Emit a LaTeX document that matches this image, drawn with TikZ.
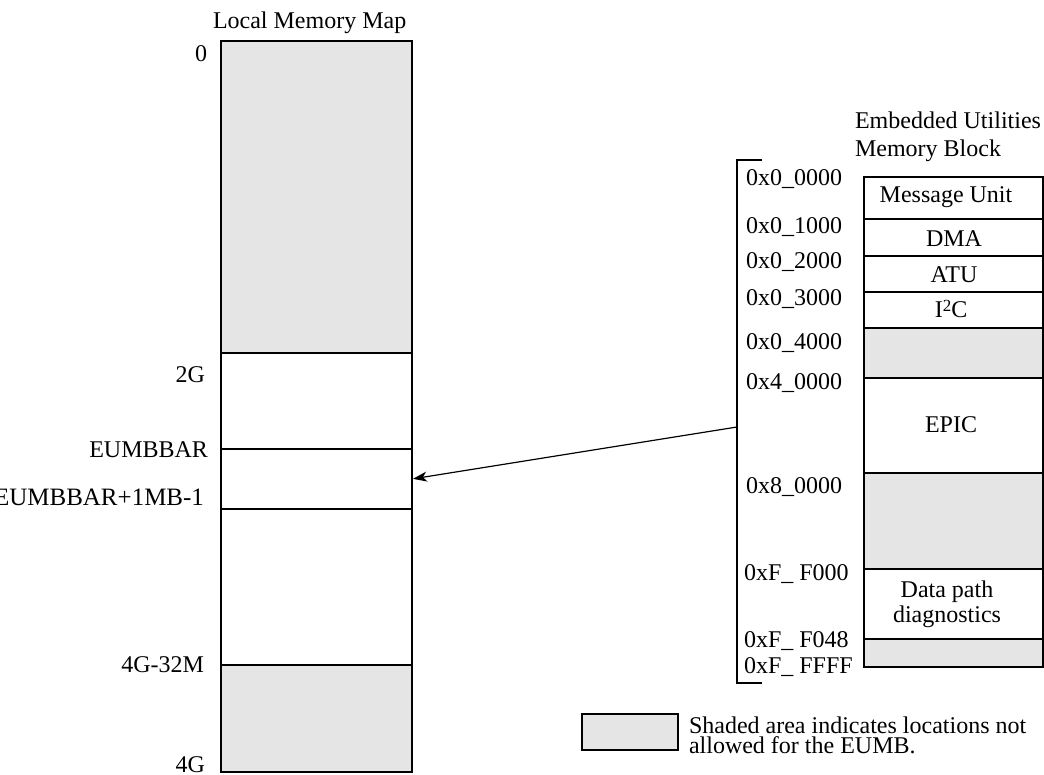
\documentclass[tikz,border=0pt]{standalone}
\usepackage{fontspec}
\setmainfont{Liberation Serif}
\usetikzlibrary{arrows.meta}
\definecolor{shade}{HTML}{E5E5E5}
\begin{document}
\begin{tikzpicture}[x=1pt,y=-1pt,
  txt/.style={font=\fontsize{24}{28}\selectfont, inner sep=0pt, outer sep=0pt},
  lseg/.style={draw, line width=2pt, minimum width=191pt, inner sep=0pt, outer sep=0pt, anchor=north west},
  rseg/.style={draw, line width=2pt, minimum width=179pt, inner sep=0pt, outer sep=0pt, anchor=north west},
  gray/.style={fill=shade},
  lab/.style={txt, anchor=base east},
  addr/.style={txt, anchor=base west},
  inlab/.style={txt, anchor=base},
  link/.style={line width=1.2pt, -{Stealth[length=14pt,width=10pt,inset=4pt]}, shorten >=1pt},
  brk/.style={line width=2pt}
]
\useasboundingbox (0,0) rectangle (1044,775);

% Titles
\node[txt, anchor=base west] (ltitle) at (213,29) {Local Memory Map};
\node[txt, anchor=base west, align=left] (rtitle) at (855,157) {Embedded Utilities\\Memory Block};

% Local memory map
\node[lseg, gray, minimum height=312pt] (m1) at (221,41) {};
\node[lseg, minimum height=96pt] (m2) at (221,353) {};
\node[lseg, minimum height=60pt] (m3) at (221,449) {};
\node[lseg, minimum height=156pt] (m4) at (221,509) {};
\node[lseg, gray, minimum height=107pt] (m5) at (221,665) {};

\node[lab] (l0) at (207,62) {0};
\node[lab] (l2g) at (205,383) {2G};
\node[lab] (leu) at (208,457) {EUMBBAR};
\node[lab, font=\fontsize{25}{28}\selectfont] (leu1) at (204,505) {EUMBBAR+1MB-1};
\node[lab] (l432) at (204,672) {4G-32M};
\node[lab] (l4g) at (205,772) {4G};

% EUMB block
\node[rseg, minimum height=42pt] (r1) at (864,177) {};
\node[rseg, minimum height=37pt] (r2) at (864,219) {};
\node[rseg, minimum height=36pt] (r3) at (864,256) {};
\node[rseg, minimum height=36pt] (r4) at (864,292) {};
\node[rseg, gray, minimum height=50pt] (r5) at (864,328) {};
\node[rseg, minimum height=95pt] (r6) at (864,378) {};
\node[rseg, gray, minimum height=96pt] (r7) at (864,473) {};
\node[rseg, minimum height=70pt] (r8) at (864,569) {};
\node[rseg, gray, minimum height=28pt] (r9) at (864,639) {};

\node[inlab] (t1) at (946,203) {Message Unit};
\node[inlab] (t2) at (954,247) {DMA};
\node[inlab] (t3) at (954,283) {ATU};
\node[inlab] (t4) at (951,318) {I\raisebox{6pt}{\fontsize{17}{17}\selectfont 2}C};
\node[inlab] (t6) at (951,432) {EPIC};
\node[txt, anchor=base, align=center, font=\fontsize{24}{25}\selectfont] (t8) at (947,622) {Data path\\diagnostics};

% Addresses
\node[addr] (a1) at (746,186) {0x0\_0000};
\node[addr] (a2) at (746,234) {0x0\_1000};
\node[addr] (a3) at (746,269) {0x0\_2000};
\node[addr] (a4) at (746,306) {0x0\_3000};
\node[addr] (a5) at (746,350) {0x0\_4000};
\node[addr] (a6) at (746,390) {0x4\_0000};
\node[addr] (a7) at (746,493) {0x8\_0000};
\node[addr] (a8) at (744,580) {0xF\_ F000};
\node[addr] (a9) at (744,647) {0xF\_ F048};
\node[addr] (a10) at (744,673) {0xF\_ FFFF};

% Bracket
\coordinate (bt) at (762,160);
\coordinate (btc) at (737,160);
\coordinate (bbc) at (737,683);
\coordinate (bb) at (762,683);
\coordinate (bk) at (737,427);
\draw[brk] (bt) -- (btc) -- (bbc) -- (bb);

% Arrow
\draw[link] (bk) -- (m3.east);

% Legend
\node[draw, line width=2pt, fill=shade, minimum width=96pt, minimum height=36pt, inner sep=0pt, anchor=north west] (leg) at (581,713) {};
\node[txt, anchor=base west, align=left, font=\fontsize{24}{20}\selectfont] (legt) at (689,753) {Shaded area indicates locations not\\allowed for the EUMB.};
\end{tikzpicture}
\end{document}
